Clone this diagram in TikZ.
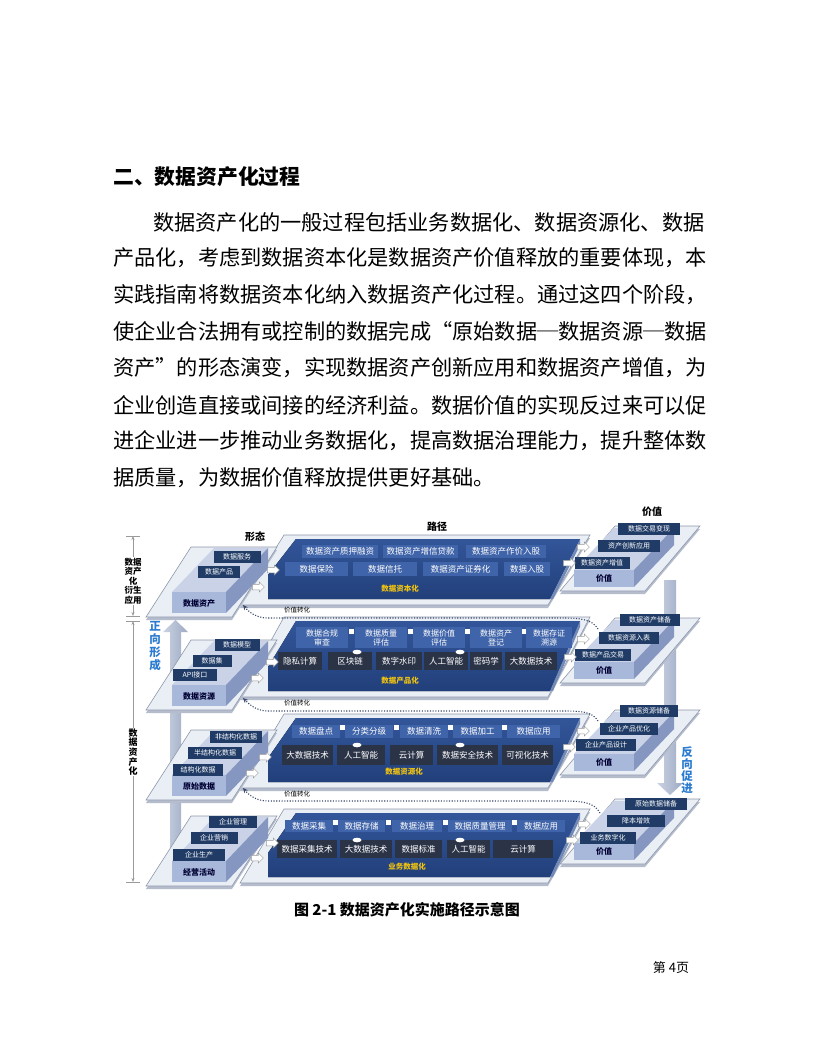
\documentclass[tikz,border=0pt]{standalone}
\usepackage{fontspec}
\setmainfont{Noto Sans CJK SC}
\usetikzlibrary{shapes.arrows,arrows.meta}
\XeTeXlinebreaklocale "zh"
\XeTeXlinebreakskip=0pt plus 4pt
\newcommand\FS[1]{\fontsize{#1}{#1}\selectfont}
\definecolor{navy}{HTML}{1F3B66}
\definecolor{midb}{HTML}{4064A9}
\definecolor{slabA}{HTML}{33569A}
\definecolor{slabB}{HTML}{213F7A}
\definecolor{slate}{HTML}{2B3347}
\definecolor{plat}{HTML}{EAEEF5}
\definecolor{platedge}{HTML}{8E98AB}
\definecolor{platdark}{HTML}{B5BDCD}
\definecolor{blkfront}{HTML}{A8B8DA}
\definecolor{blktop}{HTML}{C9D2E7}
\definecolor{blkside}{HTML}{8597C0}
\definecolor{gold}{HTML}{F2C40F}
\definecolor{vbarA}{HTML}{CBD3E3}
\definecolor{vbarB}{HTML}{9DA9C3}
\definecolor{bluetxt}{HTML}{2B7BD0}
\definecolor{dotc}{HTML}{3B4A6B}
\definecolor{axisc}{HTML}{9A9A9A}
\begin{document}
\begin{tikzpicture}[x=1pt,y=-1pt,
 lbox/.style={fill=navy,text=white,font=\FS{7},inner sep=0,minimum height=12},
 mbox/.style={fill=midb,text=white,font=\FS{8.5},inner sep=0},
 dbox/.style={fill=slate,text=white,font=\FS{8.5},inner sep=0},
 goldlab/.style={text=gold,font=\bfseries\FS{7.5},inner sep=0},
 blab/.style={text=black!80!blue,font=\bfseries\FS{8},inner sep=0},
 sarr/.style={shape=single arrow,fill=white,draw=gray!80,line width=0.5,inner sep=2.2pt,minimum height=12,minimum width=10,single arrow head extend=2pt},
 dotarrow/.style={draw=dotc,line width=1.1,dash pattern=on 1.1pt off 1.6pt,-{Stealth[length=5pt,width=4.5pt]}},
 body/.style={anchor=west,inner sep=0,font=\FS{21.2}},
 axisline/.style={draw=axisc,line width=0.8,{Stealth[length=4pt,width=3pt]}-{Stealth[length=4pt,width=3pt]}},
 hdr/.style={font=\bfseries\FS{10},inner sep=0},
 vlab/.style={fill=white,inner sep=1,align=center,font=\bfseries\FS{8.5}},
 bluelab/.style={text=bluetxt,align=center,inner sep=0,font=\bfseries\FS{11.5}},
 conv/.style={font=\FS{6.5},inner sep=0},
]
\useasboundingbox (0,0) rectangle (816,1056);
\fill[white] (0,0) rectangle (816,1056);

% ---------------- text ----------------
\node[anchor=west,inner sep=0,font=\bfseries\FS{20.8}] (hd) at (113,177) {二、数据资产化过程};
\node[body] (t1) at (153,222) {\makebox[560pt][s]{数据资产化的一般过程包括业务数据化、数据资源化、数据}};
\node[body] (t2) at (113,258) {\makebox[600pt][s]{产品化，考虑到数据资本化是数据资产价值释放的重要体现，本}};
\node[body] (t3) at (113,295) {\makebox[600pt][s]{实践指南将数据资本化纳入数据资产化过程。通过这四个阶段，}};
\node[body] (t4) at (113,331) {\makebox[600pt][s]{使企业合法拥有或控制的数据完成“原始数据─数据资源─数据}};
\node[body] (t5) at (113,368) {\makebox[600pt][s]{资产”的形态演变，实现数据资产创新应用和数据资产增值，为}};
\node[body] (t6) at (113,405) {\makebox[600pt][s]{企业创造直接或间接的经济利益。数据价值的实现反过来可以促}};
\node[body] (t7) at (113,441) {\makebox[600pt][s]{进企业进一步推动业务数据化，提高数据治理能力，提升整体数}};
\node[body] (t8) at (113,478) {据质量，为数据价值释放提供更好基础。};
\node[font=\bfseries\FS{15},inner sep=0] (cap) at (407,910) {图 2-1 数据资产化实施路径示意图};
\node[font=\FS{13},inner sep=0] (pg) at (671,968) {第 4页};

% ---------------- axis ----------------
\draw[axisline] (133,536) -- (133,616);
\draw[axisline] (133,621) -- (133,882);
\draw[axisc,line width=0.8] (126,536) -- (140,536) (126,616) -- (140,616) (126,621) -- (140,621) (126,882) -- (140,882);
\node[vlab,font=\bfseries\fontsize{8.5}{9.5}\selectfont] (ax1) at (133,581) {数据\\资产\\化\\衍生\\应用};
\node[vlab,font=\bfseries\fontsize{9}{9.6}\selectfont] (ax2) at (133,752) {数\\据\\资\\产\\化};

% ---------------- big vertical arrows ----------------
\shade[left color=vbarA,right color=vbarB] (170,880) -- (170,632) -- (163,632) -- (175.5,620) -- (188,632) -- (181,632) -- (181,880) -- cycle;
\shade[left color=vbarA,right color=vbarB] (664,580) -- (664,783) -- (657,783) -- (670,795) -- (683,783) -- (676,783) -- (676,580) -- cycle;
\node[bluelab,font=\bfseries\fontsize{11.5}{12.8}\selectfont] (zx) at (155,646) {正\\向\\形\\成};
\node[bluelab,font=\bfseries\fontsize{11.5}{12.2}\selectfont] (fx) at (687,770) {反\\向\\促\\进};

% headers
\node[hdr] (hA) at (255,537) {形态};
\node[hdr] (hB) at (437,527) {路径};
\node[hdr] (hC) at (652,512) {价值};

% ---------------- level geometry ----------------
\foreach \B/\L/\T/\R in {603/589/541/578,696/681/623/670,786/772/720/762,872/867/815/851}{
  % middle platform
  \fill[platdark] (240,{\L+19}) -- (548,{\L+19}) -- (590,{\T-3}) -- (284,{\T-3}) -- cycle;
  \filldraw[fill=plat,draw=platedge,line width=0.6] (240,{\L+16}) -- (548,{\L+16}) -- (590,{\T-6}) -- (284,{\T-6}) -- cycle;
  % slab
  \fill[top color=slabA,bottom color=slabB] (268,{\L+10}) -- (268,{\L-14}) -- (296,{\T-2}) -- (580,{\T-2}) -- (550,{\L+10}) -- cycle;
  \fill[slabA!70!white] (550,{\L+10}) -- (580,{\T-2}) -- (580,{\T+4}) -- (553,{\L+10}) -- cycle;
  % left platform
  \fill[platdark] (146,{\B+17}) -- (232,{\B+17}) -- (277,{\B-53}) -- (191,{\B-53}) -- cycle;
  \filldraw[fill=plat,draw=platedge,line width=0.6] (146,{\B+14}) -- (232,{\B+14}) -- (277,{\B-56}) -- (191,{\B-56}) -- cycle;
  % left block
  \fill[blktop] (172,{\B-11}) -- (226,{\B-11}) -- (268,{\B-55}) -- (214,{\B-55}) -- cycle;
  \fill[blkside] (226,{\B-11}) -- (268,{\B-55}) -- (268,{\B-34}) -- (226,{\B+10}) -- cycle;
  \fill[blkfront] (172,{\B-11}) rectangle (226,{\B+10});
  % right platform
  \fill[platdark] (560,{\R+16}) -- (645,{\R+16}) -- (700,{\R-49}) -- (615,{\R-49}) -- cycle;
  \filldraw[fill=plat,draw=platedge,line width=0.6] (560,{\R+13}) -- (645,{\R+13}) -- (700,{\R-52}) -- (615,{\R-52}) -- cycle;
  % right block
  \fill[blktop] (574,{\R-8}) -- (634,{\R-8}) -- (674,{\R-50}) -- (614,{\R-50}) -- cycle;
  \fill[blkside] (634,{\R-8}) -- (674,{\R-50}) -- (674,{\R-33}) -- (634,{\R+9}) -- cycle;
  \fill[blkfront] (574,{\R-8}) rectangle (634,{\R+9});
}

% ---------------- level 1 ----------------
\node[blab] (bl1) at (199,603) {数据资产};
\node[lbox,minimum width=42] (l1b) at (219,572) {数据产品};
\node[lbox,minimum width=47] (l1c) at (237,557) {数据服务};
\node[mbox,minimum width=76,minimum height=13] (m1a) at (340,551.5) {数据资产质押融资};
\node[mbox,minimum width=75,minimum height=13] (m1b) at (420.5,551.5) {数据资产增信贷款};
\node[mbox,minimum width=80,minimum height=13] (m1c) at (506,551.5) {数据资产作价入股};
\node[mbox,minimum width=63,minimum height=14] (m1d) at (316.5,569) {数据保险};
\node[mbox,minimum width=64,minimum height=14] (m1e) at (385,569) {数据信托};
\node[mbox,minimum width=75,minimum height=14] (m1f) at (460.5,569) {数据资产证券化};
\node[mbox,minimum width=46,minimum height=14] (m1g) at (527,569) {数据入股};
\node[goldlab] (g1) at (400,589) {数据资本化};
\node[blab] (br1) at (604,578) {价值};
\node[lbox,minimum width=55] (r1a) at (602,563) {数据资产增值};
\node[lbox,minimum width=62] (r1b) at (629,546) {资产创新应用};
\node[lbox,minimum width=62] (r1c) at (649,529) {数据交易变现};
\node[sarr] (a1a) at (272,570) {};
\node[sarr] (a1b) at (257,587) {};
\node[sarr] (a1c) at (582,547) {};
\node[sarr] (a1d) at (568,563) {};

% ---------------- level 2 ----------------
\node[blab] (bl2) at (199,696) {数据资源};
\node[lbox,minimum width=44] (l2a) at (195,675) {API接口};
\node[lbox,minimum width=39] (l2b) at (212,661) {数据集};
\node[lbox,minimum width=45] (l2c) at (237,645) {数据模型};
\foreach \cx in {351.5,410,467.5,524}{\fill[white] (\cx-2.5,629) rectangle (\cx+2.5,634);}
\node[mbox,minimum width=52,minimum height=21,align=center,font=\fontsize{8}{9}\selectfont] (m2a) at (322,637.5) {数据合规\\审查};
\node[mbox,minimum width=52,minimum height=21,align=center,font=\fontsize{8}{9}\selectfont] (m2b) at (381,637.5) {数据质量\\评估};
\node[mbox,minimum width=52,minimum height=21,align=center,font=\fontsize{8}{9}\selectfont] (m2c) at (439,637.5) {数据价值\\评估};
\node[mbox,minimum width=52,minimum height=21,align=center,font=\fontsize{8}{9}\selectfont] (m2d) at (496,637.5) {数据资产\\登记};
\node[mbox,minimum width=46,minimum height=21,align=center,font=\fontsize{8}{9}\selectfont] (m2e) at (549,637.5) {数据存证\\溯源};
\node[dbox,minimum width=44,minimum height=18] (m2f) at (300,661) {隐私计算};
\node[dbox,minimum width=44,minimum height=18] (m2g) at (350,661) {区块链};
\node[dbox,minimum width=46,minimum height=18] (m2h) at (399,661) {数字水印};
\node[dbox,minimum width=44,minimum height=18] (m2i) at (446,661) {人工智能};
\node[dbox,minimum width=32,minimum height=18] (m2j) at (486,661) {密码学};
\node[dbox,minimum width=52,minimum height=18] (m2k) at (531,661) {大数据技术};
\fill[white] (357,652) ellipse (4.5 and 2.3) (460,652) ellipse (4.5 and 2.3);
\node[goldlab] (g2) at (400,681) {数据产品化};
\node[blab] (br2) at (604,670) {价值};
\node[lbox,minimum width=56] (r2a) at (603,655) {数据产品交易};
\node[lbox,minimum width=60] (r2b) at (629,638) {数据资源入表};
\node[lbox,minimum width=60] (r2c) at (650,620) {数据资产储备};
\node[sarr] (a2a) at (271,662) {};
\node[sarr] (a2b) at (256,678) {};
\node[sarr] (a2c) at (582,639) {};
\node[sarr] (a2d) at (569,657) {};

% ---------------- level 3 ----------------
\node[blab] (bl3) at (199,786) {原始数据};
\node[lbox,minimum width=50] (l3a) at (198,770) {结构化数据};
\node[lbox,minimum width=54] (l3b) at (215,753) {半结构化数据};
\node[lbox,minimum width=52] (l3c) at (236,737) {非结构化数据};
\foreach \cx in {342.5,396.5,450.5,504.5}{\fill[white] (\cx-2.5,725) rectangle (\cx+2.5,730);}
\node[mbox,minimum width=48,minimum height=13] (m3a) at (316,731.5) {数据盘点};
\node[mbox,minimum width=48,minimum height=13] (m3b) at (369,731.5) {分类分级};
\node[mbox,minimum width=48,minimum height=13] (m3c) at (424,731.5) {数据清洗};
\node[mbox,minimum width=49,minimum height=13] (m3d) at (477.5,731.5) {数据加工};
\node[mbox,minimum width=53,minimum height=13] (m3e) at (533.5,731.5) {数据应用};
\node[dbox,minimum width=51,minimum height=20] (m3f) at (307.5,755) {大数据技术};
\node[dbox,minimum width=48,minimum height=20] (m3g) at (361,755) {人工智能};
\node[dbox,minimum width=43,minimum height=20] (m3h) at (411.5,755) {云计算};
\node[dbox,minimum width=61,minimum height=20] (m3i) at (467.5,755) {数据安全技术};
\node[dbox,minimum width=51,minimum height=20] (m3j) at (527.5,755) {可视化技术};
\fill[white] (357,745) ellipse (4.5 and 2.3) (460,745) ellipse (4.5 and 2.3);
\node[goldlab] (g3) at (404,772) {数据资源化};
\node[blab] (br3) at (604,762) {价值};
\node[lbox,minimum width=60] (r3a) at (606,745) {企业产品设计};
\node[lbox,minimum width=58] (r3b) at (629,729) {企业产品优化};
\node[lbox,minimum width=58] (r3c) at (649,711) {数据资源储备};
\node[sarr] (a3a) at (264,757) {};
\node[sarr] (a3b) at (251,773) {};
\node[sarr] (a3c) at (582,731) {};
\node[sarr] (a3d) at (568,747) {};

% ---------------- level 4 ----------------
\node[blab] (bl4) at (199,872) {经营活动};
\node[lbox,minimum width=52] (l4a) at (199,855) {企业生产};
\node[lbox,minimum width=47] (l4b) at (214,838) {企业营销};
\node[lbox,minimum width=48] (l4c) at (233,822) {企业管理};
\foreach \cx in {335.5,388.5,445,514.5}{\fill[white] (\cx-2.5,820) rectangle (\cx+2.5,825);}
\node[mbox,minimum width=48,minimum height=12] (m4a) at (309,826) {数据采集};
\node[mbox,minimum width=47,minimum height=12] (m4b) at (361.5,826) {数据存储};
\node[mbox,minimum width=50,minimum height=12] (m4c) at (417,826) {数据治理};
\node[mbox,minimum width=64,minimum height=12] (m4d) at (480,826) {数据质量管理};
\node[mbox,minimum width=48,minimum height=12] (m4e) at (541,826) {数据应用};
\node[dbox,minimum width=60,minimum height=18] (m4f) at (307,849) {数据采集技术};
\node[dbox,minimum width=52,minimum height=18] (m4g) at (366,849) {大数据技术};
\node[dbox,minimum width=47,minimum height=18] (m4h) at (418.5,849) {数据标准};
\node[dbox,minimum width=43,minimum height=18] (m4i) at (468.5,849) {人工智能};
\node[dbox,minimum width=60,minimum height=18] (m4j) at (523,849) {云计算};
\fill[white] (357,840) ellipse (4.5 and 2.3) (460,840) ellipse (4.5 and 2.3);
\node[goldlab] (g4) at (407,867) {业务数据化};
\node[blab] (br4) at (604,851) {价值};
\node[lbox,minimum width=56] (r4a) at (608,838) {业务数字化};
\node[lbox,minimum width=58] (r4b) at (636,821) {降本增效};
\node[lbox,minimum width=62] (r4c) at (656,804) {原始数据储备};
\node[sarr] (a4a) at (271,843) {};
\node[sarr] (a4b) at (256,858) {};
\node[sarr] (a4c) at (583,824) {};
\node[sarr] (a4d) at (571,840) {};

% ---------------- value conversion (dotted) ----------------
\coordinate (d1s) at (598,629); \coordinate (d1e) at (243,605);
\coordinate (d2s) at (598,721); \coordinate (d2e) at (243,698);
\coordinate (d3s) at (600,813); \coordinate (d3e) at (243,788);
\draw[dotarrow] (d1s) .. controls (592,619) and (580,618) .. (560,618) -- (268,618) .. controls (256,618) and (249,612) .. (d1e);
\draw[dotarrow] (d2s) .. controls (592,711) and (580,711) .. (560,711) -- (268,711) .. controls (256,711) and (249,704) .. (d2e);
\draw[dotarrow] (d3s) .. controls (594,802) and (582,801) .. (562,801) -- (268,801) .. controls (256,801) and (249,795) .. (d3e);
\node[conv] (v1) at (297,610) {价值转化};
\node[conv] (v2) at (297,703) {价值转化};
\node[conv] (v3) at (297,794) {价值转化};
\end{tikzpicture}
\end{document}
